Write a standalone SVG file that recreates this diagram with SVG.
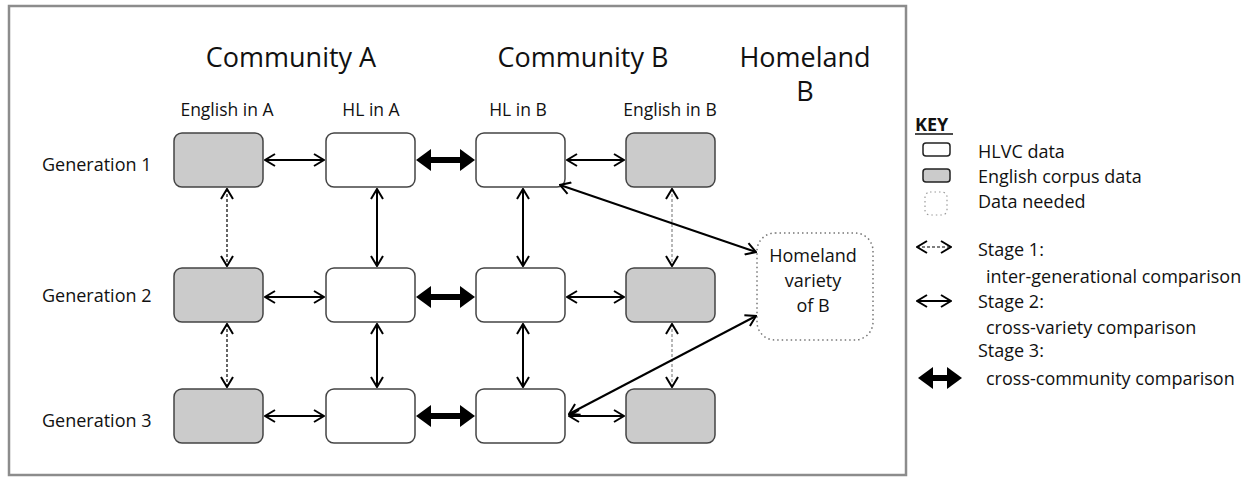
<svg xmlns="http://www.w3.org/2000/svg" width="1253" height="477" viewBox="0 0 1253 477">
<style>
text{font-family:"Open Sans","Liberation Sans",sans-serif;fill:#111}
.h{font-size:27px;text-anchor:middle}
.sub{font-size:17.5px;text-anchor:middle}
.gen{font-size:18px}
.key{font-size:18px}
.hb{font-size:18px;text-anchor:middle}
.box{stroke:#444;stroke-width:1.5}
.eng{fill:#cbcbcb}
.hl{fill:#fff}
.thin{stroke:#000;stroke-width:2;fill:none;marker-start:url(#ah);marker-end:url(#ah)}
.dash{stroke:#000;stroke-width:1.2;stroke-dasharray:3 2;fill:none;marker-start:url(#ah);marker-end:url(#ah)}
.dashg{stroke:#888;stroke-width:1.2;stroke-dasharray:3 2;fill:none;marker-start:url(#ah);marker-end:url(#ah)}
.thick{stroke:#000;stroke-width:6;fill:none;marker-start:url(#th);marker-end:url(#th)}
.dotted{fill:#fff;stroke:#777;stroke-width:1.5;stroke-dasharray:1.5 3}
</style>
<defs>
<marker id="ah" viewBox="0 0 12 14" refX="11" refY="7" markerWidth="12" markerHeight="14" markerUnits="userSpaceOnUse" orient="auto-start-reverse">
<path d="M1,1 L11,7 L1,13" fill="none" stroke="#000" stroke-width="2"/>
</marker>
<marker id="th" viewBox="0 0 15 22" refX="6" refY="11" markerWidth="15" markerHeight="22" markerUnits="userSpaceOnUse" orient="auto-start-reverse">
<path d="M0,0 L15,11 L0,22 Z" fill="#000"/>
</marker>
</defs>
<rect x="9" y="6" width="897" height="469" fill="#fff" stroke="#8c8c8c" stroke-width="2.5"/>
<g id="headers">
<text class="h" x="291" y="67">Community A</text>
<text class="h" x="583" y="67">Community B</text>
<text class="h" x="805" y="67">Homeland</text>
<text class="h" x="805" y="101">B</text>
<text class="sub" x="227" y="116">English in A</text>
<text class="sub" x="371" y="116">HL in A</text>
<text class="sub" x="518" y="116">HL in B</text>
<text class="sub" x="670" y="116">English in B</text>
<text class="gen" x="42" y="171">Generation 1</text>
<text class="gen" x="42" y="302">Generation 2</text>
<text class="gen" x="42" y="427">Generation 3</text>
</g>
<g id="r1-engA"><rect class="box eng" x="174" y="133" width="89" height="54" rx="8"/></g>
<g id="r1-hlA"><rect class="box hl" x="326" y="133" width="89" height="54" rx="8"/></g>
<g id="r1-hlB"><rect class="box hl" x="476" y="133" width="89" height="54" rx="8"/></g>
<g id="r1-engB"><rect class="box eng" x="626" y="133" width="89" height="54" rx="8"/></g>
<g id="r2-engA"><rect class="box eng" x="174" y="268" width="89" height="54" rx="8"/></g>
<g id="r2-hlA"><rect class="box hl" x="326" y="268" width="89" height="54" rx="8"/></g>
<g id="r2-hlB"><rect class="box hl" x="476" y="268" width="89" height="54" rx="8"/></g>
<g id="r2-engB"><rect class="box eng" x="626" y="268" width="89" height="54" rx="8"/></g>
<g id="r3-engA"><rect class="box eng" x="174" y="389" width="89" height="54" rx="8"/></g>
<g id="r3-hlA"><rect class="box hl" x="326" y="389" width="89" height="54" rx="8"/></g>
<g id="r3-hlB"><rect class="box hl" x="476" y="389" width="89" height="54" rx="8"/></g>
<g id="r3-engB"><rect class="box eng" x="626" y="389" width="89" height="54" rx="8"/></g>
<g id="homeland">
<rect class="dotted" x="757" y="233" width="116" height="107" rx="18"/>
<text class="hb" x="813" y="262">Homeland</text>
<text class="hb" x="813" y="287">variety</text>
<text class="hb" x="813" y="312">of B</text>
</g>
<g id="connectors">
<line class="thin" x1="265" y1="160" x2="324" y2="160"/>
<line class="thick" x1="425" y1="160" x2="466" y2="160"/>
<line class="thin" x1="567" y1="160" x2="624" y2="160"/>
<line class="thin" x1="265" y1="297" x2="324" y2="297"/>
<line class="thick" x1="425" y1="297" x2="466" y2="297"/>
<line class="thin" x1="567" y1="297" x2="624" y2="297"/>
<line class="thin" x1="265" y1="416" x2="324" y2="416"/>
<line class="thick" x1="425" y1="416" x2="466" y2="416"/>
<line class="thin" x1="569" y1="416" x2="624" y2="416"/>
<line class="dash" x1="227" y1="189" x2="227" y2="266"/>
<line class="thin" x1="377" y1="189" x2="377" y2="266"/>
<line class="thin" x1="523" y1="189" x2="523" y2="266"/>
<line class="dashg" x1="672" y1="189" x2="672" y2="266"/>
<line class="dash" x1="227" y1="324" x2="227" y2="387"/>
<line class="thin" x1="377" y1="324" x2="377" y2="387"/>
<line class="thin" x1="523" y1="324" x2="523" y2="387"/>
<line class="dashg" x1="672" y1="324" x2="672" y2="387"/>
<line class="thin" x1="560" y1="185" x2="756" y2="252"/>
<line class="thin" x1="756" y1="316" x2="569" y2="414"/>
</g>
<g id="key">
<text class="key" x="915" y="131" font-weight="bold">KEY</text>
<line x1="915" y1="134" x2="953" y2="134" stroke="#111" stroke-width="1.5"/>
<rect x="923" y="143" width="27" height="13" rx="3" fill="#fff" stroke="#222" stroke-width="1.5"/>
<rect x="923" y="169" width="27" height="13" rx="3" fill="#cbcbcb" stroke="#222" stroke-width="1.5"/>
<rect x="925" y="192" width="22" height="23" rx="5" fill="#fff" stroke="#999" stroke-width="1.2" stroke-dasharray="1.5 3"/>
<text class="key" x="978" y="158">HLVC data</text>
<text class="key" x="978" y="183">English corpus data</text>
<text class="key" x="978" y="208">Data needed</text>
<line class="dash" x1="917" y1="247" x2="951" y2="247"/>
<text class="key" x="978" y="256">Stage 1:</text>
<text class="key" x="986" y="283">inter-generational comparison</text>
<line class="thin" x1="917" y1="301" x2="951" y2="301"/>
<text class="key" x="978" y="308">Stage 2:</text>
<text class="key" x="986" y="334">cross-variety comparison</text>
<text class="key" x="978" y="357">Stage 3:</text>
<line class="thick" x1="927" y1="378" x2="953" y2="378"/>
<text class="key" x="986" y="385">cross-community comparison</text>
</g>
</svg>
